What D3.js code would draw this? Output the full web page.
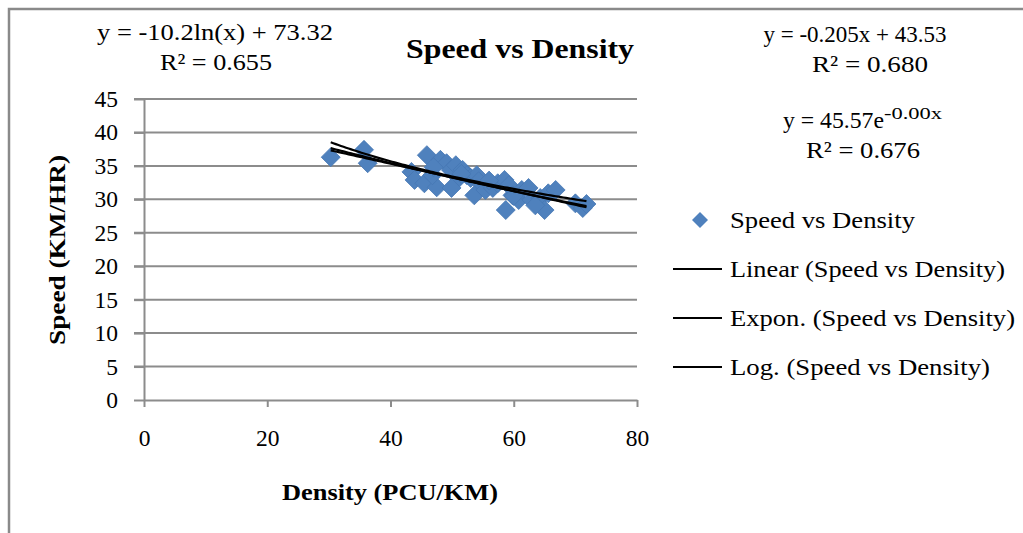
<!DOCTYPE html>
<html>
<head>
<meta charset="utf-8">
<script src="https://cdn.jsdelivr.net/npm/d3@7"></script>
<style>
  html, body { margin: 0; padding: 0; background: #fff; }
  svg { display: block; font-family: "Liberation Serif", "Times New Roman", serif; }
</style>
</head>
<body>
<svg id="chart" width="1023" height="533"></svg>
<script>
// ---- Data ----
const density = [30.3, 35.7, 36.3, 43.4, 43.9, 45.9, 45.5, 47.5, 46.8, 48.1, 49.1, 49.8, 50.6, 51.1, 51.7, 52.4, 53.0, 54.0, 54.3, 53.6, 55.4, 56.6, 57.4, 58.5, 59.2, 58.7, 59.8, 60.8, 61.3, 62.4, 62.9, 64.3, 65.0, 65.6, 66.8, 70.0, 71.2, 71.8, 49.9, 47.0, 51.5, 56.0, 60.0, 63.5];
const speed   = [36.3, 37.4, 35.4, 34.1, 32.9, 36.6, 32.4, 31.8, 33.6, 35.9, 35.4, 34.4, 35.1, 33.2, 34.4, 33.6, 33.2, 33.6, 32.7, 30.6, 31.4, 31.7, 32.4, 32.9, 32.1, 28.4, 30.6, 29.9, 31.4, 31.7, 29.9, 30.2, 28.4, 30.9, 31.4, 29.4, 28.7, 29.3, 31.7, 34.8, 33.8, 32.8, 30.5, 29.1];
const xTicks = [0, 20, 40, 60, 80];
const yTicks = [0, 5, 10, 15, 20, 25, 30, 35, 40, 45];
const legendLabels = ["Speed vs Density", "Linear (Speed vs Density)", "Expon. (Speed vs Density)", "Log. (Speed vs Density)"];
const linCoef = [-0.205, 43.53];
const expCoef = [45.57, -0.0063];
const logCoef = [-10.2, 73.32];

const svg = d3.select("#chart");

function fit(sel, len) {
  return sel.attr("textLength", len).attr("lengthAdjust", "spacingAndGlyphs");
}

// frame
svg.append("rect").attr("x", 9).attr("y", 9).attr("width", 1030).attr("height", 540)
  .attr("fill", "none").attr("stroke", "#8a8a8a").attr("stroke-width", 2.5);

const x = d3.scaleLinear().domain([0, 80]).range([144, 637]);
const y = d3.scaleLinear().domain([0, 45]).range([400, 99]);

// gridlines
svg.append("g").selectAll("line").data(yTicks.filter(d => d > 0)).join("line")
  .attr("x1", 134).attr("x2", x(80))
  .attr("y1", d => y(d)).attr("y2", d => y(d))
  .attr("stroke", "#8c8c8c").attr("stroke-width", 2);

// y axis
const yAxis = svg.append("g").attr("transform", `translate(${x(0)},0)`)
  .call(d3.axisLeft(y).tickValues(yTicks).tickSize(10).tickSizeOuter(0).tickPadding(16));
yAxis.select(".domain").attr("stroke", "#8c8c8c").attr("stroke-width", 2);
yAxis.selectAll(".tick line").attr("stroke", "#8c8c8c").attr("stroke-width", 2);
yAxis.selectAll(".tick text").attr("font-size", 23.5).attr("fill", "#000")
  .attr("font-family", "Liberation Serif");

// x axis
const xAxis = svg.append("g").attr("transform", `translate(0,${y(0)})`)
  .call(d3.axisBottom(x).tickValues(xTicks).tickSize(7).tickSizeOuter(0).tickPadding(22));
xAxis.select(".domain").attr("stroke", "#8c8c8c").attr("stroke-width", 2);
xAxis.selectAll(".tick line").attr("stroke", "#8c8c8c").attr("stroke-width", 2);
xAxis.selectAll(".tick text").attr("font-size", 23.5).attr("fill", "#000")
  .attr("font-family", "Liberation Serif");

// points
const pts = density.map((d, i) => ({ x: d, y: speed[i] }));
const r = 9.5;
const diamond = `M0,${-r}L${r},0L0,${r}L${-r},0Z`;
svg.append("g").selectAll("path").data(pts).join("path")
  .attr("d", diamond)
  .attr("transform", d => `translate(${x(d.x)},${y(d.y)})`)
  .attr("fill", "#4f81bd").attr("stroke", "#4677b4").attr("stroke-width", 0.8);

// trendlines
const xmin = d3.min(density), xmax = d3.max(density);
const xs = d3.range(0, 101).map(i => xmin + (xmax - xmin) * i / 100);
const line = d3.line().x(d => x(d[0])).y(d => y(d[1]));
const fits = [
  v => linCoef[0] * v + linCoef[1],
  v => expCoef[0] * Math.exp(expCoef[1] * v),
  v => logCoef[0] * Math.log(v) + logCoef[1]
];
fits.forEach(f => {
  svg.append("path").attr("d", line(xs.map(v => [v, f(v)])))
    .attr("fill", "none").attr("stroke", "#000").attr("stroke-width", 2.2);
});

// title
fit(svg.append("text").attr("x", 520).attr("y", 58).attr("text-anchor", "middle")
  .attr("font-size", 28).attr("font-weight", "bold").text("Speed vs Density"), 228);

// equations
function eq(cx, cy, txt, len) {
  fit(svg.append("text").attr("x", cx).attr("y", cy).attr("text-anchor", "middle")
    .attr("font-size", 23.5).text(txt), len);
}
eq(215, 40, "y = -10.2ln(x) + 73.32", 236);
eq(216, 70, "R² = 0.655", 112);
eq(855, 42, "y = -0.205x + 43.53", 183);
eq(870, 72, "R² = 0.680", 116);
const et = svg.append("text").attr("x", 783).attr("y", 128).attr("font-size", 23.5);
fit(et.append("tspan").text("y = 45.57e"), 101);
fit(et.append("tspan").attr("font-size", 16).attr("dy", -9).text("-0.00x"), 58);
eq(863, 158, "R² = 0.676", 114);

// axis titles
fit(svg.append("text").attr("x", 390).attr("y", 500).attr("text-anchor", "middle")
  .attr("font-size", 23.5).attr("font-weight", "bold").text("Density (PCU/KM)"), 216);
fit(svg.append("text").attr("transform", "translate(65,250) rotate(-90)").attr("text-anchor", "middle")
  .attr("font-size", 23.5).attr("font-weight", "bold").text("Speed (KM/HR)"), 190);

// legend
const lg = svg.append("g");
const ly = [220, 269, 318, 367];
const lw = [185, 275, 285, 260];
lg.append("path").attr("d", `M0,-8L8,0L0,8L-8,0Z`).attr("transform", `translate(700,${ly[0]})`)
  .attr("fill", "#4f81bd");
[1, 2, 3].forEach(i => {
  lg.append("line").attr("x1", 673).attr("x2", 722).attr("y1", ly[i]).attr("y2", ly[i])
    .attr("stroke", "#000").attr("stroke-width", 2);
});
legendLabels.forEach((t, i) => {
  fit(lg.append("text").attr("x", 730).attr("y", ly[i] + 8)
    .attr("font-size", 23.5).text(t), lw[i]);
});
</script>
</body>
</html>
